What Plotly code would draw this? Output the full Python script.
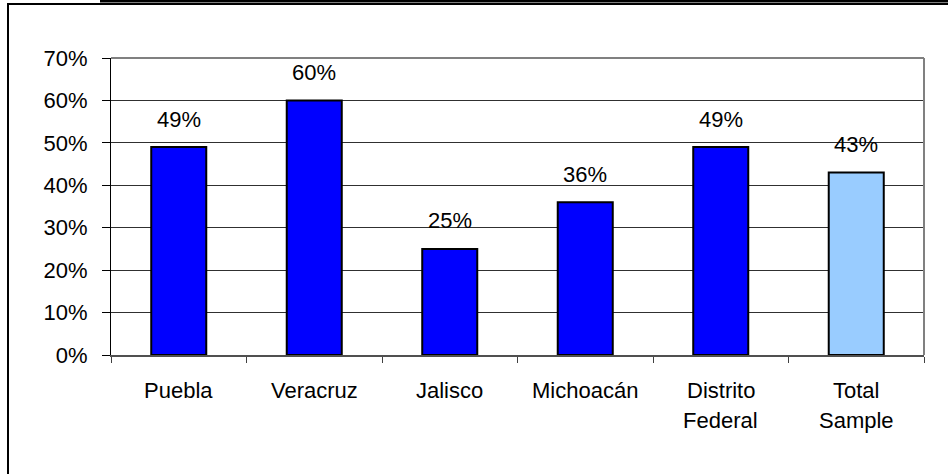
import plotly.graph_objects as go

categories = ["Puebla", "Veracruz", "Jalisco", "Michoacán", "Distrito Federal", "Total Sample"]
label_lines = [["Puebla"], ["Veracruz"], ["Jalisco"], ["Michoacán"], ["Distrito", "Federal"], ["Total", "Sample"]]
values = [49, 60, 25, 36, 49, 43]
bar_colors = ["#0000FF", "#0000FF", "#0000FF", "#0000FF", "#0000FF", "#99CCFF"]
y_ticks = [0, 10, 20, 30, 40, 50, 60, 70]
y_tick_labels = ["0%", "10%", "20%", "30%", "40%", "50%", "60%", "70%"]

W, H = 948, 474
L, R, T, B = 111, 924, 58, 355  # plot area in pixels


def px(x):
    return (x - L) / (R - L)


def py(y):
    return (B - y) / (B - T)


FONT = "Liberation Sans, Arial, sans-serif"
FS = 22

fig = go.Figure()
fig.add_trace(go.Bar(
    x=categories,
    y=values,
    marker=dict(color=bar_colors, line=dict(color="black", width=2)),
    hoverinfo="skip",
))

annotations = []
for c, v in zip(categories, values):
    annotations.append(dict(
        x=c, y=v, xref="x", yref="y", text=f"{v}%", showarrow=False,
        yanchor="middle", yshift=28, font=dict(family=FONT, size=FS, color="black"),
    ))
for c, lines in zip(categories, label_lines):
    for i, ln in enumerate(lines):
        annotations.append(dict(
            x=c, y=0, xref="x", yref="paper", text=ln, showarrow=False,
            yanchor="middle", yshift=-(35 + 30 * i),
            font=dict(family=FONT, size=FS, color="black"),
        ))

shapes = [
    # plot-area border (top and right), gray
    dict(type="line", xref="paper", yref="paper", x0=0, x1=1, y0=1, y1=1,
         line=dict(color="#808080", width=2), layer="above"),
    dict(type="line", xref="paper", yref="paper", x0=1, x1=1, y0=0, y1=1,
         line=dict(color="#808080", width=2), layer="above"),
    # outer frame: left and top
    dict(type="line", xref="paper", yref="paper", x0=px(8), x1=px(8), y0=py(474), y1=py(4),
         line=dict(color="black", width=2), layer="above"),
    dict(type="line", xref="paper", yref="paper", x0=px(7), x1=px(948), y0=py(4), y1=py(4),
         line=dict(color="black", width=2), layer="above"),
    dict(type="line", xref="paper", yref="paper", x0=px(100), x1=px(948), y0=py(1), y1=py(1),
         line=dict(color="black", width=3), layer="above"),
]

fig.update_layout(
    width=W, height=H,
    margin=dict(l=L, r=W - R, t=T, b=H - B, pad=0),
    paper_bgcolor="white", plot_bgcolor="white",
    showlegend=False,
    bargap=0.594,
    hovermode=False,
    font=dict(family=FONT, size=FS, color="black"),
    annotations=annotations,
    shapes=shapes,
    xaxis=dict(
        type="category", showticklabels=False, tickson="boundaries",
        ticks="outside", ticklen=6, tickcolor="#404040", tickwidth=1,
        showline=True, linecolor="#505050", linewidth=2, showgrid=False,
        zeroline=False, fixedrange=True,
    ),
    yaxis=dict(
        range=[0, 70], tickmode="array", tickvals=y_ticks, ticktext=y_tick_labels,
        ticks="outside", ticklen=8, tickcolor="black", tickwidth=1,
        showline=True, linecolor="black", linewidth=1,
        showgrid=True, gridcolor="#303030", gridwidth=1,
        zeroline=False, ticklabelstandoff=10, fixedrange=True,
        tickfont=dict(family=FONT, size=FS, color="black"),
    ),
)

fig.write_html(
    "out.html",
    config={"displayModeBar": False},
    post_script="document.body.style.margin='0';document.body.style.overflow='hidden';",
)
